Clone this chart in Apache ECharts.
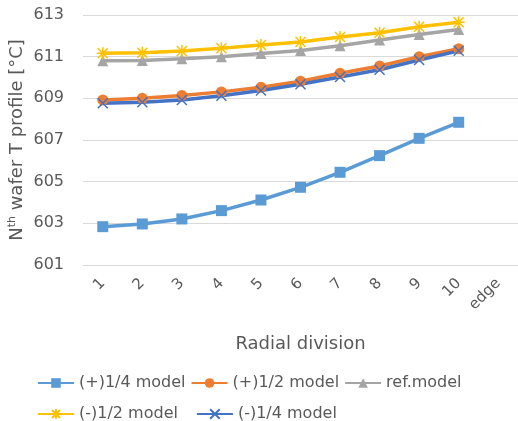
<!DOCTYPE html>
<html>
<head>
<meta charset="utf-8">
<script src="https://cdn.jsdelivr.net/npm/echarts@6/dist/echarts.min.js"></script>
<style>
  html, body { margin: 0; padding: 0; background: #fff; }
  #chart { width: 518px; height: 421px; }
</style>
</head>
<body>
<div id="chart"></div>
<script>
const categories = ['1', '2', '3', '4', '5', '6', '7', '8', '9', '10', 'edge'];
const plusQuarter = [602.84, 602.97, 603.21, 603.61, 604.12, 604.73, 605.45, 606.25, 607.08, 607.85, null];
const plusHalf = [608.92, 609.0, 609.14, 609.31, 609.53, 609.82, 610.2, 610.55, 611.0, 611.38, null];
const refModel = [610.8, 610.82, 610.9, 611.0, 611.15, 611.3, 611.52, 611.8, 612.06, 612.3, null];
const minusHalf = [611.16, 611.19, 611.27, 611.4, 611.56, 611.7, 611.94, 612.15, 612.44, 612.65, null];
const minusQuarter = [608.76, 608.81, 608.92, 609.12, 609.38, 609.68, 610.02, 610.37, 610.84, 611.28, null];

const font = 'DejaVu Sans';
const textColor = '#595959';
const asterisk = 'path://M0 0L10 10M10 0L0 10M5 -1L5 11M-1 5L11 5';
const cross = 'path://M0 0L10 10M10 0L0 10';

const chart = echarts.init(document.getElementById('chart'));

const line = (name, data, color, symbol, size, extra) => ({
  name,
  type: 'line',
  data,
  symbol,
  symbolSize: size,
  lineStyle: { color, width: 3.5 },
  itemStyle: Object.assign({ color, borderColor: color, borderWidth: 0 }, extra || {}),
  emphasis: { disabled: true },
  animation: false
});

const legendText = { fontFamily: font, fontSize: 16, color: textColor };

chart.setOption({
  animation: false,
  grid: { left: 83, right: 0, top: 15, bottom: 156, containLabel: false, outerBoundsMode: 'none' },
  legend: [
    {
      data: ['(+)1/4 model', '(+)1/2 model', 'ref.model'],
      left: 32, top: 370, itemWidth: 36, itemHeight: 12, itemGap: 5,
      textStyle: legendText
    },
    {
      data: ['(-)1/2 model', '(-)1/4 model'],
      left: 32, top: 401, itemWidth: 36, itemHeight: 12, itemGap: 18,
      textStyle: legendText
    }
  ],
  xAxis: {
    type: 'category',
    data: categories,
    name: 'Radial division',
    nameLocation: 'middle',
    nameGap: 70,
    nameMoveOverlap: false,
    nameTextStyle: { fontFamily: font, fontSize: 18, color: textColor },
    axisLine: { show: false },
    axisTick: { show: false },
    axisLabel: { rotate: 45, interval: 0, margin: 16, fontFamily: font, fontSize: 15, color: textColor }
  },
  yAxis: {
    type: 'value',
    min: 601,
    max: 613,
    interval: 2,
    name: 'N{sup|th} wafer T profile [°C]',
    nameLocation: 'middle',
    nameGap: 56,
    nameMoveOverlap: false,
    nameTextStyle: {
      fontFamily: font, fontSize: 18, color: textColor,
      rich: { sup: { fontFamily: font, fontSize: 11, color: textColor, verticalAlign: 'top', padding: [0, 0, 9, 0] } }
    },
    axisLine: { show: false },
    axisTick: { show: false },
    axisLabel: { margin: 19, fontFamily: font, fontSize: 16, color: textColor },
    splitLine: { lineStyle: { color: '#d9d9d9', width: 1 } }
  },
  series: [
    line('(+)1/4 model', plusQuarter, '#5B9BD5', 'rect', 11),
    line('(+)1/2 model', plusHalf, '#ED7D31', 'circle', 11),
    line('ref.model', refModel, '#A5A5A5', 'triangle', 11),
    line('(-)1/2 model', minusHalf, '#FFC000', asterisk, 12, { borderWidth: 1.5 }),
    line('(-)1/4 model', minusQuarter, '#4472C4', cross, 10, { borderWidth: 1.5 })
  ]
});
</script>
</body>
</html>
